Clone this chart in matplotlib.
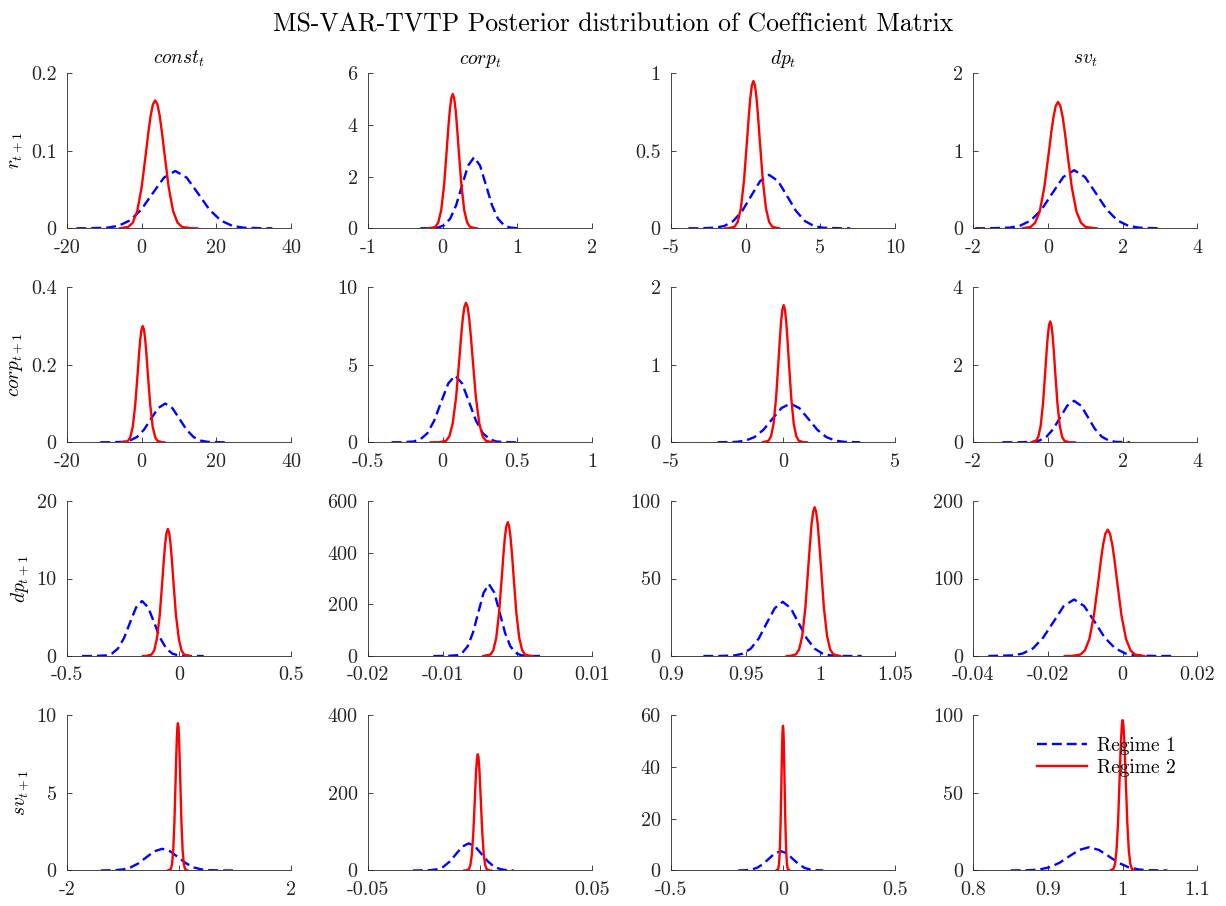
import matplotlib
matplotlib.use("Agg")
import matplotlib.pyplot as plt
from matplotlib.ticker import FormatStrFormatter

plt.rcParams["font.family"] = ["cmr10", "DejaVu Serif"]
plt.rcParams["mathtext.fontset"] = "cm"
plt.rcParams["axes.unicode_minus"] = False
plt.rcParams["axes.formatter.use_mathtext"] = False

row_labels = [r"$r_{t+1}$", r"$corp_{t+1}$", r"$dp_{t+1}$", r"$sv_{t+1}$"]
col_labels = [r"$const_t$", r"$corp_t$", r"$dp_t$", r"$sv_t$"]

# panels in row-major order (response row, regressor column)
x_ticks = [
    [-20, 0, 20, 40], [-1, 0, 1, 2], [-5, 0, 5, 10], [-2, 0, 2, 4],
    [-20, 0, 20, 40], [-0.5, 0, 0.5, 1], [-5, 0, 5], [-2, 0, 2, 4],
    [-0.5, 0, 0.5], [-0.02, -0.01, 0, 0.01], [0.9, 0.95, 1, 1.05], [-0.04, -0.02, 0, 0.02],
    [-2, 0, 2], [-0.05, 0, 0.05], [-0.5, 0, 0.5], [0.8, 0.9, 1, 1.1],
]
y_ticks = [
    [0, 0.1, 0.2], [0, 2, 4, 6], [0, 0.5, 1], [0, 1, 2],
    [0, 0.2, 0.4], [0, 5, 10], [0, 1, 2], [0, 2, 4],
    [0, 10, 20], [0, 200, 400, 600], [0, 50, 100], [0, 100, 200],
    [0, 5, 10], [0, 200, 400], [0, 20, 40, 60], [0, 50, 100],
]

# Regime 1 posterior densities (blue dashed)
regime1_x = [
    [-17.5, -15.4, -9.3, -6.25, -3.2, -0.15, 2.9, 5.95, 9.0, 12.05, 15.1, 18.15, 21.2, 24.25, 27.3, 33.4, 35.0],
    [-0.30, -0.22, -0.06, 0.02, 0.10, 0.18, 0.26, 0.34, 0.42, 0.50, 0.58, 0.66, 0.74, 0.82, 0.90, 1.0],
    [-3.83, -3.23, -2.03, -1.43, -0.83, -0.23, 0.37, 0.97, 1.57, 2.17, 2.77, 3.37, 3.97, 4.57, 5.17, 6.37, 7.0],
    [-1.95, -1.62, -1.04, -0.75, -0.46, -0.17, 0.12, 0.41, 0.70, 0.99, 1.28, 1.57, 1.86, 2.15, 2.44, 3.0],
    [-11.1, -8.9, -5.1, -3.2, -1.3, 0.6, 2.5, 4.4, 6.3, 8.2, 10.1, 12.0, 13.9, 15.8, 17.7, 21.5, 23.6],
    [-0.342, -0.289, -0.196, -0.150, -0.103, -0.057, -0.010, 0.037, 0.083, 0.130, 0.176, 0.223, 0.269, 0.316, 0.362, 0.455, 0.507],
    [-2.92, -2.07, -1.67, -1.27, -0.87, -0.47, -0.07, 0.33, 0.73, 1.13, 1.53, 1.93, 2.33, 2.73, 3.45],
    [-1.22, -0.78, -0.41, -0.225, -0.04, 0.145, 0.33, 0.515, 0.70, 0.885, 1.07, 1.255, 1.44, 1.625, 1.81, 2.2],
    [-0.433, -0.381, -0.327, -0.30, -0.273, -0.246, -0.219, -0.192, -0.165, -0.138, -0.111, -0.084, -0.057, -0.030, -0.003, 0.051, 0.11],
    [-0.01125, -0.00952, -0.00809, -0.00738, -0.00666, -0.00595, -0.00523, -0.00452, -0.0038, -0.00309, -0.00237, -0.00166, -0.00094, -0.00023, 0.00049, 0.00192, 0.00327],
    [0.9217, 0.932, 0.9427, 0.9481, 0.9534, 0.9588, 0.9641, 0.9695, 0.9748, 0.9802, 0.9855, 0.9909, 0.9962, 1.0016, 1.0069, 1.0176, 1.0277],
    [-0.036, -0.0295, -0.0268, -0.024, -0.0213, -0.0185, -0.0158, -0.013, -0.0103, -0.0075, -0.0048, -0.002, 0.0008, 0.0035, 0.009, 0.013],
    [-1.4, -1.155, -1.013, -0.87, -0.728, -0.585, -0.443, -0.3, -0.158, -0.015, 0.128, 0.27, 0.413, 0.555, 0.84, 1.0],
    [-0.03, -0.0278, -0.0221, -0.0193, -0.0164, -0.0136, -0.0107, -0.0079, -0.005, -0.0022, 0.0007, 0.0036, 0.0064, 0.0093, 0.0121, 0.015],
    [-0.2, -0.169, -0.143, -0.116, -0.09, -0.063, -0.037, -0.01, 0.017, 0.043, 0.07, 0.096, 0.123, 0.149, 0.18],
    [0.85, 0.8752, 0.8885, 0.9018, 0.9151, 0.9284, 0.9417, 0.955, 0.9683, 0.9816, 0.9949, 1.0082, 1.0215, 1.0348, 1.06],
]
regime1_y = [
    [0.0, 0.0, 0.0008, 0.0032, 0.0100, 0.0240, 0.0449, 0.0653, 0.074, 0.0653, 0.0449, 0.0240, 0.0100, 0.0032, 0.0008, 0.0, 0.0],
    [0.0, 0.001, 0.031, 0.121, 0.372, 0.893, 1.668, 2.427, 2.75, 2.427, 1.668, 0.893, 0.372, 0.121, 0.031, 0.002],
    [0.0, 0.0001, 0.0038, 0.0151, 0.0467, 0.1120, 0.2092, 0.3045, 0.345, 0.3045, 0.2092, 0.1120, 0.0467, 0.0151, 0.0038, 0.0001, 0.0],
    [0.0, 0.0002, 0.0083, 0.0329, 0.1015, 0.2435, 0.4549, 0.6619, 0.75, 0.6619, 0.4549, 0.2435, 0.1015, 0.0329, 0.0083, 0.0],
    [0.0, 0.0, 0.0011, 0.0044, 0.0135, 0.0325, 0.0607, 0.0883, 0.10, 0.0883, 0.0607, 0.0325, 0.0135, 0.0044, 0.0011, 0.0, 0.0],
    [0.0, 0.001, 0.048, 0.189, 0.582, 1.396, 2.608, 3.795, 4.3, 3.795, 2.608, 1.396, 0.582, 0.189, 0.048, 0.001, 0.0],
    [0.0002, 0.0056, 0.022, 0.0677, 0.1624, 0.3033, 0.4413, 0.5, 0.4413, 0.3033, 0.1624, 0.0677, 0.022, 0.0056, 0.0002],
    [0.0, 0.0003, 0.012, 0.047, 0.145, 0.347, 0.649, 0.944, 1.07, 0.944, 0.649, 0.347, 0.145, 0.047, 0.012, 0.0003],
    [0.0, 0.002, 0.079, 0.312, 0.961, 2.305, 4.306, 6.266, 7.1, 6.266, 4.306, 2.305, 0.961, 0.312, 0.079, 0.002, 0.0],
    [0.0, 0.08, 3.09, 12.2, 37.6, 90.3, 168.6, 245.3, 278, 245.3, 168.6, 90.3, 37.6, 12.2, 3.09, 0.08, 0.0],
    [0.0, 0.01, 0.39, 1.54, 4.74, 11.36, 21.23, 30.89, 35, 30.89, 21.23, 11.36, 4.74, 1.54, 0.39, 0.01, 0.0],
    [0.0, 0.81, 3.2, 9.88, 23.7, 44.27, 64.42, 73, 64.42, 44.27, 23.7, 9.88, 3.2, 0.81, 0.02, 0.0],
    [0.0, 0.016, 0.062, 0.189, 0.455, 0.849, 1.236, 1.4, 1.236, 0.849, 0.455, 0.189, 0.062, 0.016, 0.0, 0.0],
    [0.0, 0.02, 0.78, 3.07, 9.47, 22.73, 42.46, 61.78, 70, 61.78, 42.46, 22.73, 9.47, 3.07, 0.78, 0.1],
    [0.01, 0.083, 0.329, 1.015, 2.435, 4.549, 6.619, 7.5, 6.619, 4.549, 2.435, 1.015, 0.329, 0.083, 0.01],
    [0.005, 0.167, 0.659, 2.03, 4.87, 9.1, 13.24, 15, 13.24, 9.1, 4.87, 2.03, 0.659, 0.167, 0.005],
]

# Regime 2 posterior densities (red solid)
regime2_x = [
    [-5.8, -3.6, -2.4, -1.2, 0.0, 1.2, 1.8, 2.4, 3.0, 3.6, 4.2, 4.8, 5.4, 6.0, 7.2, 8.4, 9.6, 10.8, 13.2, 14.8],
    [-0.21, -0.174, -0.097, -0.059, -0.02, 0.019, 0.057, 0.076, 0.096, 0.115, 0.134, 0.153, 0.173, 0.192, 0.211, 0.250, 0.288, 0.327, 0.365, 0.442, 0.456],
    [-1.35, -1.16, -0.74, -0.53, -0.32, -0.11, 0.10, 0.205, 0.31, 0.415, 0.52, 0.625, 0.73, 0.835, 0.94, 1.15, 1.36, 1.57, 1.78, 2.20, 2.25],
    [-0.67, -0.465, -0.343, -0.22, -0.098, 0.025, 0.086, 0.148, 0.209, 0.27, 0.331, 0.393, 0.454, 0.515, 0.638, 0.76, 0.883, 1.005, 1.25, 1.3],
    [-5.4, -5.05, -3.72, -3.06, -2.39, -1.73, -1.06, -0.73, -0.40, -0.063, 0.27, 0.603, 0.94, 1.268, 1.60, 2.27, 2.93, 3.60, 4.26, 5.59, 6.0],
    [-0.08, -0.021, 0.023, 0.045, 0.067, 0.090, 0.112, 0.123, 0.134, 0.145, 0.156, 0.167, 0.178, 0.189, 0.200, 0.222, 0.245, 0.267, 0.289, 0.333, 0.35],
    [-0.9, -0.645, -0.533, -0.42, -0.308, -0.195, -0.139, -0.083, -0.026, 0.03, 0.086, 0.143, 0.199, 0.255, 0.368, 0.48, 0.593, 0.705, 0.93, 1.07],
    [-0.44, -0.324, -0.26, -0.196, -0.132, -0.068, -0.036, -0.004, 0.028, 0.06, 0.092, 0.124, 0.156, 0.188, 0.252, 0.316, 0.38, 0.444, 0.572, 0.71],
    [-0.161, -0.147, -0.123, -0.111, -0.099, -0.086, -0.074, -0.068, -0.062, -0.056, -0.05, -0.044, -0.038, -0.032, -0.026, -0.014, -0.001, 0.011, 0.023, 0.05],
    [-0.00456, -0.0036, -0.00322, -0.00283, -0.00245, -0.00206, -0.00187, -0.00168, -0.00148, -0.00129, -0.0011, -0.00091, -0.00071, -0.00052, -0.00014, 0.00025, 0.00064, 0.00102, 0.00179, 0.00206],
    [0.9775, 0.9796, 0.9837, 0.9858, 0.9879, 0.9900, 0.9920, 0.9931, 0.9941, 0.9952, 0.9962, 0.9972, 0.9983, 0.9993, 1.0004, 1.0024, 1.0045, 1.0066, 1.0087, 1.0134],
    [-0.0155, -0.0138, -0.01135, -0.01013, -0.0089, -0.00768, -0.00645, -0.00584, -0.00523, -0.00461, -0.004, -0.00339, -0.00278, -0.00216, -0.00155, -0.00033, 0.0009, 0.00213, 0.00335, 0.0058],
    [-0.2, -0.146, -0.125, -0.104, -0.083, -0.062, -0.0515, -0.041, -0.0305, -0.02, -0.0095, 0.001, 0.0115, 0.022, 0.043, 0.064, 0.085, 0.106, 0.15],
    [-0.007, -0.00632, -0.00499, -0.00433, -0.00366, -0.003, -0.00233, -0.002, -0.00167, -0.00133, -0.001, -0.00067, -0.00034, 0.0, 0.00033, 0.001, 0.00166, 0.00233, 0.00299, 0.00432, 0.005],
    [-0.03, -0.0213, -0.0178, -0.0142, -0.0107, -0.0071, -0.0053, -0.0036, -0.0018, 0.0, 0.0018, 0.0036, 0.0053, 0.0071, 0.0107, 0.0142, 0.0178, 0.0213, 0.03],
    [0.9836, 0.9877, 0.9898, 0.9918, 0.9939, 0.9959, 0.9969, 0.998, 0.999, 1.0, 1.001, 1.002, 1.0031, 1.0041, 1.0062, 1.0082, 1.0103, 1.0123, 1.0164],
]
regime2_y = [
    [0.0001, 0.0018, 0.0072, 0.0223, 0.0536, 0.1001, 0.1245, 0.1456, 0.1599, 0.165, 0.1599, 0.1456, 0.1245, 0.1001, 0.0536, 0.0223, 0.0072, 0.0018, 0.0, 0.0],
    [0.0, 0.002, 0.058, 0.228, 0.704, 1.688, 3.154, 3.925, 4.589, 5.04, 5.2, 5.04, 4.589, 3.925, 3.154, 1.688, 0.704, 0.228, 0.058, 0.002, 0.0],
    [0.0, 0.0003, 0.0105, 0.0417, 0.1285, 0.3085, 0.5762, 0.7171, 0.8384, 0.9207, 0.95, 0.9207, 0.8384, 0.7171, 0.5762, 0.3085, 0.1285, 0.0417, 0.0105, 0.0003, 0.0],
    [0.0008, 0.018, 0.072, 0.221, 0.529, 0.989, 1.230, 1.439, 1.580, 1.63, 1.580, 1.439, 1.230, 0.989, 0.529, 0.221, 0.072, 0.018, 0.0005, 0.0],
    [0.0, 0.0001, 0.0033, 0.0132, 0.0406, 0.0974, 0.1820, 0.2264, 0.2648, 0.2908, 0.30, 0.2908, 0.2648, 0.2264, 0.1820, 0.0974, 0.0406, 0.0132, 0.0033, 0.0001, 0.0],
    [0.0, 0.003, 0.100, 0.395, 1.218, 2.922, 5.459, 6.793, 7.943, 8.723, 9.0, 8.723, 7.943, 6.793, 5.459, 2.922, 1.218, 0.395, 0.100, 0.003, 0.0],
    [0.0003, 0.020, 0.078, 0.240, 0.575, 1.074, 1.336, 1.562, 1.715, 1.77, 1.715, 1.562, 1.336, 1.074, 0.575, 0.240, 0.078, 0.020, 0.0005, 0.0],
    [0.001, 0.035, 0.137, 0.422, 1.013, 1.892, 2.355, 2.753, 3.024, 3.12, 3.024, 2.753, 2.355, 1.892, 1.013, 0.422, 0.137, 0.035, 0.001, 0.0],
    [0.0, 0.005, 0.182, 0.72, 2.219, 5.325, 9.947, 12.38, 14.473, 15.89, 16.4, 15.89, 14.473, 12.38, 9.947, 5.325, 2.219, 0.72, 0.182, 0.0],
    [0.0, 5.75, 22.7, 70.1, 168.2, 314.2, 391.0, 457.1, 502.0, 518, 502.0, 457.1, 391.0, 314.2, 168.2, 70.1, 22.7, 5.75, 0.16, 0.0],
    [0.0, 0.03, 1.07, 4.21, 12.99, 31.17, 58.22, 72.46, 84.72, 93.04, 96, 93.04, 84.72, 72.46, 58.22, 31.17, 12.99, 4.21, 1.07, 0.0],
    [0.0, 0.05, 1.81, 7.16, 22.05, 52.93, 98.86, 123.03, 143.8, 157.98, 163, 157.98, 143.8, 123.03, 98.86, 52.93, 22.05, 7.16, 1.81, 0.05],
    [0.0, 0.105, 0.417, 1.285, 3.085, 5.762, 7.171, 8.384, 9.207, 9.5, 9.207, 8.384, 7.171, 5.762, 3.085, 1.285, 0.417, 0.105, 0.0],
    [0.0, 0.09, 3.33, 13.17, 40.59, 97.41, 181.95, 226.4, 264.75, 290.8, 300, 290.8, 264.75, 226.4, 181.95, 97.41, 40.59, 13.17, 3.33, 0.09, 0.0],
    [0.0, 0.62, 2.46, 7.58, 18.18, 33.96, 42.27, 49.42, 54.28, 56, 54.28, 49.42, 42.27, 33.96, 18.18, 7.58, 2.46, 0.62, 0.0],
    [0.03, 1.08, 4.26, 13.12, 31.5, 58.83, 73.22, 85.6, 94.01, 97, 94.01, 85.6, 73.22, 58.83, 31.5, 13.12, 4.26, 1.08, 0.03],
]

fig = plt.figure(figsize=(12.26, 9.06), dpi=100)
lefts = [0.0547, 0.3002, 0.5473, 0.7939]
bottoms = [0.748, 0.5118, 0.2759, 0.0392]
axis_color = (0.15, 0.15, 0.15)

for i in range(4):
    for j in range(4):
        k = 4 * i + j
        ax = fig.add_axes([lefts[j], bottoms[i], 0.1827, 0.1711])
        ax.plot(regime1_x[k], regime1_y[k], color=(0, 0, 1), lw=1.7,
                ls=(0, (4.2, 2.1)), label="Regime 1")
        ax.plot(regime2_x[k], regime2_y[k], color=(1, 0, 0), lw=1.7,
                label="Regime 2")
        ax.set_xticks(x_ticks[k])
        ax.set_yticks(y_ticks[k])
        ax.set_xlim(x_ticks[k][0], x_ticks[k][-1])
        ax.set_ylim(y_ticks[k][0], y_ticks[k][-1])
        ax.xaxis.set_major_formatter(FormatStrFormatter("%g"))
        ax.yaxis.set_major_formatter(FormatStrFormatter("%g"))
        for side in ["top", "right"]:
            ax.spines[side].set_visible(False)
        for side in ["left", "bottom"]:
            ax.spines[side].set_color(axis_color)
            ax.spines[side].set_linewidth(0.6)
        ax.tick_params(direction="in", length=3.5, width=0.6, color=axis_color,
                       labelcolor=axis_color, labelsize=14.5, pad=7.5)
        if i == 0:
            ax.set_title(col_labels[j], fontsize=14, pad=7)
        if j == 0:
            ax.set_ylabel(row_labels[i], fontsize=14, labelpad=4)
        if k == 15:
            ax.legend(loc="upper right", frameon=False, fontsize=14,
                      handlelength=2.6, handletextpad=0.5,
                      borderaxespad=0.7, labelspacing=0.2)

fig.suptitle("MS-VAR-TVTP Posterior distribution of Coefficient Matrix",
             fontsize=18.5, y=0.986)
fig.savefig("out.png", dpi=100)
